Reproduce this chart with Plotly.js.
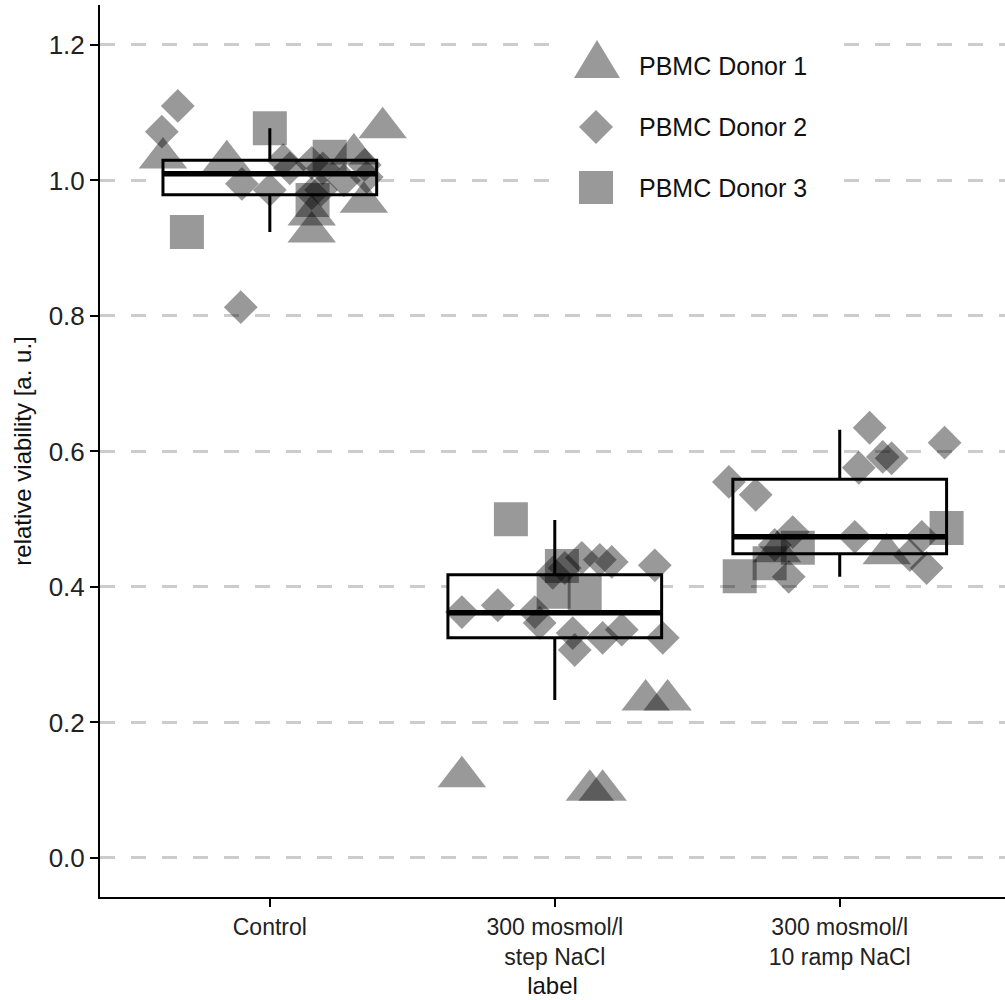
<!DOCTYPE html>
<html>
<head>
<meta charset="utf-8">
<script src="https://cdn.plot.ly/plotly-3.0.1.min.js"></script>
<style>html,body{margin:0;padding:0;background:#fff;}#chart{width:1005px;height:1000px;}</style>
</head>
<body>
<div id="chart"></div>
<script>
// ---- data ----
var categories = ["Control", "300 mosmol/l<br>step NaCl", "300 mosmol/l<br>10 ramp NaCl"];
var yTickVals = [0, 0.2, 0.4, 0.6, 0.8, 1.0, 1.2];
var donorNames = ["PBMC Donor 1", "PBMC Donor 2", "PBMC Donor 3"];

// box summary per category
var boxQ1     = [0.979, 0.325, 0.449];
var boxMedian = [1.010, 0.362, 0.474];
var boxQ3     = [1.030, 0.418, 0.559];
var boxLower  = [0.924, 0.233, 0.415];
var boxUpper  = [1.077, 0.499, 0.632];

// Donor 1 (triangles): category index, horizontal jitter, value
var d1Cat    = [0, 0, 0, 0, 0, 0, 0, 1, 1, 1, 1, 1, 2, 2];
var d1Jitter = [-0.375, -0.151, 0.147, 0.147, 0.330, 0.396, 0.295, -0.326, 0.123, 0.168, 0.319, 0.396, 0.165, -0.220];
var d1Value  = [1.033, 1.029, 0.949, 0.924, 0.968, 1.078, 1.039, 0.120, 0.100, 0.100, 0.233, 0.233, 0.449, 0.452];

// Donor 2 (diamonds)
var d2Cat    = [0,0,0,0,0,0,0,0,0,0,0,0,0,0,
                1,1,1,1,1,1,1,1,1,1,1,1,1,1,1,
                2,2,2,2,2,2,2,2,2,2,2,2,2,2];
var d2Jitter = [-0.323, -0.379, -0.098, 0.000, -0.102, 0.047, 0.070, 0.147, 0.186, 0.147, 0.180, 0.333, 0.340, 0.260,
                -0.326, -0.200, -0.070, -0.053, 0.063, 0.070, 0.168, 0.235, 0.379, -0.007, 0.035, 0.095, 0.158, 0.200, 0.351,
                0.105, 0.368, 0.151, 0.182, 0.067, -0.389, -0.295, -0.165, 0.053, 0.288, 0.305, 0.246, -0.179, -0.228];
var d2Value  = [1.110, 1.072, 0.995, 0.986, 0.813, 1.030, 1.018, 1.026, 1.018, 0.981, 0.986, 1.023, 1.005, 1.000,
                0.363, 0.373, 0.363, 0.347, 0.332, 0.307, 0.325, 0.337, 0.325, 0.421, 0.428, 0.443, 0.440, 0.437, 0.432,
                0.635, 0.613, 0.592, 0.590, 0.576, 0.555, 0.536, 0.481, 0.474, 0.474, 0.428, 0.447, 0.415, 0.462];

// Donor 3 (squares)
var d3Cat    = [0, 0, 0, 0, 1, 1, 1, 1, 2, 2, 2, 2];
var d3Jitter = [0.000, -0.291, 0.210, 0.150, -0.154, 0.025, -0.004, 0.105, -0.351, -0.246, -0.147, 0.375];
var d3Value  = [1.077, 0.924, 1.035, 0.971, 0.500, 0.431, 0.393, 0.391, 0.416, 0.435, 0.458, 0.487];

// ---- build ----
var FONT = "Liberation Sans, Arial, Helvetica, sans-serif";
var catIdx = categories.map(function(_, i){ return i; });
function pos(cat, jit){ return cat.map(function(c, i){ return c + jit[i]; }); }

var ptColor = "rgba(0,0,0,0.4)";
var traces = [
  { type: "box", x: catIdx, q1: boxQ1, median: boxMedian, q3: boxQ3,
    lowerfence: boxLower, upperfence: boxUpper, width: 0.75, whiskerwidth: 0,
    boxpoints: false, fillcolor: "#ffffff", line: { color: "#000000", width: 3 },
    showlegend: false, hoverinfo: "skip" },
  { type: "box", x: catIdx, q1: boxMedian, median: boxMedian, q3: boxMedian,
    lowerfence: boxMedian, upperfence: boxMedian, width: 0.75, whiskerwidth: 0,
    boxpoints: false, fillcolor: "rgba(0,0,0,0)", line: { color: "#000000", width: 5.5 },
    showlegend: false, hoverinfo: "skip" },
  { type: "scatter", mode: "markers", name: donorNames[0], x: pos(d1Cat, d1Jitter), y: d1Value,
    marker: { symbol: "triangle-up", size: 42, color: ptColor, line: { width: 0 } }, showlegend: false },
  { type: "scatter", mode: "markers", name: donorNames[1], x: pos(d2Cat, d2Jitter), y: d2Value,
    marker: { symbol: "diamond", size: 26, color: ptColor, line: { width: 0 } }, showlegend: false },
  { type: "scatter", mode: "markers", name: donorNames[2], x: pos(d3Cat, d3Jitter), y: d3Value,
    marker: { symbol: "square", size: 34, color: ptColor, line: { width: 0 } }, showlegend: false }
];

// plot area in pixels
var L = 100, R = 1005, T = 5, B = 897;
function px(x){ return (x - L) / (R - L); }
function py(y){ return (B - y) / (B - T); }

// custom legend (large keys like the original)
var keyColor = "#999999";
var shapes = [
  { type: "rect", xref: "paper", yref: "paper", x0: px(553), x1: px(832), y0: py(210), y1: py(25),
    fillcolor: "#ffffff", line: { width: 0 }, layer: "above" },
  { type: "path", xref: "paper", yref: "paper", layer: "above", fillcolor: keyColor, line: { width: 0 },
    path: "M" + px(574) + "," + py(78) + " L" + px(620) + "," + py(78) + " L" + px(597) + "," + py(40) + " Z" },
  { type: "path", xref: "paper", yref: "paper", layer: "above", fillcolor: keyColor, line: { width: 0 },
    path: "M" + px(579) + "," + py(127) + " L" + px(596) + "," + py(110) + " L" + px(613) + "," + py(127) +
          " L" + px(596) + "," + py(144) + " Z" },
  { type: "rect", xref: "paper", yref: "paper", layer: "above", fillcolor: keyColor, line: { width: 0 },
    x0: px(579), x1: px(613), y0: py(204), y1: py(171) }
];
var legendY = [66, 127, 188];
var annotations = donorNames.map(function(n, i){
  return { xref: "paper", yref: "paper", x: px(637), y: py(legendY[i]), xanchor: "left", yanchor: "middle",
           text: n, showarrow: false, font: { family: FONT, size: 25, color: "#111111" } };
});

var layout = {
  width: 1005, height: 1000,
  margin: { l: L, r: 1005 - R, t: T, b: 1000 - B },
  paper_bgcolor: "#ffffff", plot_bgcolor: "#ffffff",
  font: { family: FONT, size: 24, color: "#222222" },
  showlegend: false, hovermode: false,
  xaxis: {
    range: [-0.596, 2.58], tickmode: "array", tickvals: catIdx, ticktext: categories,
    showgrid: false, zeroline: false, showline: true, linecolor: "#000000", linewidth: 2,
    ticks: "outside", ticklen: 8, tickwidth: 2, tickcolor: "#000000",
    tickfont: { family: FONT, size: 23, color: "#222222" },
    title: { text: "label", font: { family: FONT, size: 24, color: "#111111" }, standoff: 9 }
  },
  yaxis: {
    range: [-0.0576, 1.259], tickmode: "array", tickvals: yTickVals, tickformat: ".1f",
    showgrid: true, gridcolor: "#cccccc", gridwidth: 3, griddash: "15px,16px",
    zeroline: false, showline: true, linecolor: "#000000", linewidth: 2,
    ticks: "outside", ticklen: 8, tickwidth: 2, tickcolor: "#000000",
    tickfont: { family: FONT, size: 26, color: "#222222" },
    title: { text: "relative viability [a. u.]", font: { family: FONT, size: 24, color: "#111111" }, standoff: 10 }
  },
  shapes: shapes,
  annotations: annotations
};

Plotly.newPlot("chart", traces, layout, { displayModeBar: false, staticPlot: true });
</script>
</body>
</html>
